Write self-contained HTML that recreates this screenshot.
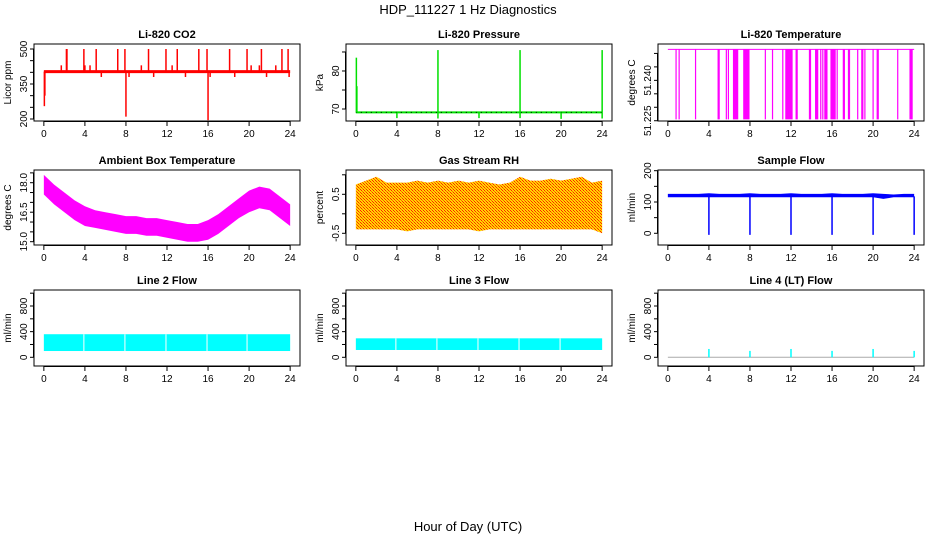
<!DOCTYPE html>
<html><head><meta charset="utf-8"><style>
html,body{margin:0;padding:0;background:#fff}
svg{display:block;font-family:"Liberation Sans",Arial,sans-serif}
</style></head><body>
<svg id="c" width="936" height="540" viewBox="0 0 936 540">
<defs>
<pattern id="rh" width="3" height="3" patternUnits="userSpaceOnUse"><rect width="3" height="3" fill="#ffd800"/><rect width="1" height="1" fill="#ff2000"/><rect x="1" y="1" width="1" height="1" fill="#ff2000"/><rect x="2" y="2" width="1" height="1" fill="#ff6000"/></pattern>
</defs>
<text x="468" y="14" text-anchor="middle" font-size="13">HDP_111227  1 Hz Diagnostics</text>
<text x="468" y="531" text-anchor="middle" font-size="13">Hour of Day (UTC)</text>
</svg>
<script>
// ---- data ----
const xTicks = [0,4,8,12,16,20,24];
// CO2
const co2Base = 403;
const co2SpikeHours = [0.05,0.1,1.7,2.2,2.25,3.9,4.0,4.5,5.1,5.6,7.2,7.9,8.0,8.3,9.5,10.2,10.7,11.9,12.5,13.0,13.8,15.1,15.9,16.0,16.2,18.1,18.6,19.8,20.2,21.0,21.2,21.7,22.6,23.2,23.8,23.9];
const co2SpikeValues = [255,300,430,500,500,500,430,430,500,380,500,500,210,380,430,500,380,500,430,500,380,500,500,195,380,500,380,500,430,430,500,380,430,500,500,380];
// Pressure
const presBase = 69.1;
const presSpikeHours = [0.05,0.1,4.0,8.0,8.0,12.0,16.0,16.0,20.0,24.0,24.0];
const presSpikeValues = [83.5,76,67.6,67.5,85.5,67.6,67.6,85.5,67.4,67.5,85.5];
// Li-820 temperature
const tempTop = 51.2515, tempLow = 51.2255;
const tempDropStart = [0.8,1.1,2.7,4.9,5.7,5.9,6.4,7.4,9.5,10.2,11.2,11.5,12.5,13.8,14.4,14.9,15.1,15.3,15.9,16.5,17.1,17.6,18.5,18.9,19.2,20.0,20.4,22.4,23.6];
const tempDropEnd   = [0.8,1.1,2.7,5.0,5.7,5.9,6.8,7.9,9.5,10.2,11.2,12.1,12.6,13.9,14.6,14.9,15.1,15.5,16.3,16.5,17.2,17.7,18.5,19.0,19.2,20.0,20.5,22.4,23.8];
// Ambient box temperature (hourly envelope)
const ambHours = [0,1,2,3,4,5,6,7,8,9,10,11,12,13,14,15,16,17,18,19,20,21,22,23,24];
const ambUpper = [18.4,17.9,17.5,17.1,16.8,16.6,16.5,16.4,16.3,16.3,16.2,16.2,16.1,16.0,15.9,15.9,16.1,16.4,16.8,17.2,17.6,17.8,17.7,17.3,16.9];
const ambLower = [17.4,16.9,16.5,16.1,15.8,15.7,15.6,15.5,15.4,15.4,15.3,15.3,15.2,15.1,15.0,15.0,15.1,15.4,15.8,16.2,16.5,16.7,16.6,16.2,15.8];
// Gas stream RH
const rhHours = [0,1,2,3,4,5,6,7,8,9,10,11,12,13,14,15,16,17,18,19,20,21,22,23,24];
const rhUpper = [0.75,0.85,0.95,0.8,0.8,0.8,0.85,0.8,0.85,0.8,0.85,0.8,0.85,0.8,0.75,0.8,0.95,0.85,0.85,0.9,0.85,0.9,0.95,0.8,0.85];
const rhLower = [-0.4,-0.4,-0.4,-0.4,-0.4,-0.45,-0.4,-0.4,-0.4,-0.4,-0.4,-0.4,-0.45,-0.4,-0.4,-0.4,-0.4,-0.4,-0.4,-0.4,-0.4,-0.4,-0.4,-0.4,-0.5];
// Sample flow
const sfHours = [0,1,2,3,4,5,6,7,8,9,10,11,12,13,14,15,16,17,18,19,20,21,22,23,24];
const sfUpper = [126,126,126,126,128,126,126,126,128,126,126,126,128,126,126,126,128,126,126,126,128,126,124,126,126];
const sfLower = [115,115,115,115,115,115,115,115,115,115,115,115,115,115,115,115,115,115,115,115,115,110,115,115,115];
const sfDipHours = [4,8,12,16,20,24];
const sfDipValues = [-5,-5,-5,-5,-5,-5];
// Line 2 / Line 3 flows
const l2Upper = 360, l2Lower = 98;
const l2Gaps = [3.9,7.9,11.9,15.9,19.8];
const l3Upper = 296, l3Lower = 114;
const l3Gaps = [3.9,7.9,11.9,15.9,19.9];
// Line 4 flow
const l4Base = 0;
const l4SpikeHours = [4,8,12,16,20,24];
const l4SpikeValues = [130,100,130,100,130,100];

// ---- layout ----
const svg = document.getElementById('c');
const NS = 'http://www.w3.org/2000/svg';
function mk(tag, attrs, parent){const e=document.createElementNS(NS,tag);for(const k in attrs)e.setAttribute(k,attrs[k]);(parent||svg).appendChild(e);return e;}
const colX = [34,346,658], rowY = [[44,121],[170,245],[290,366]], W = 266;

function panel(name, col, row, ymin, ymax, yTicks, yLabels, ylab, title){
  const x0=colX[col], y0=rowY[row][0], y1=rowY[row][1];
  const g = mk('g',{});
  
  
  const sx = h => x0 + (h + 0.96)/25.92*W;
  const sy = v => y1 - (v - ymin)/(ymax - ymin)*(y1 - y0);
  const t = mk('text',{x:x0+W/2,y:y0-6,'text-anchor':'middle','font-size':11,'font-weight':'bold'},g);
  t.textContent = title;
  
  
  const plot = mk('g',{},g);
  
  
  const box = mk('rect',{x:x0,y:y0,width:W,height:y1-y0,fill:'none',stroke:'#000','stroke-width':1},g);
  
  
  const xa = mk('g',{},g);
  
  
  mk('line',{x1:sx(0),x2:sx(24),y1:y1+0.5,y2:y1+0.5,stroke:'#000'},xa);
  xTicks.forEach(h=>{
    mk('line',{x1:sx(h),x2:sx(h),y1:y1,y2:y1+5,stroke:'#000'},xa);
    const l = mk('text',{x:sx(h),y:y1+16,'text-anchor':'middle','font-size':10},xa);
    l.textContent = h;
    
    
  });
  const ya = mk('g',{},g);
  
  
  mk('line',{x1:x0-0.5,x2:x0-0.5,y1:sy(yTicks[0]),y2:sy(yTicks[yTicks.length-1]),stroke:'#000'},ya);
  yTicks.forEach(v=>mk('line',{x1:x0-4,x2:x0,y1:sy(v),y2:sy(v),stroke:'#000'},ya));
  yLabels.forEach(([v,s])=>{
    const l = mk('text',{x:0,y:0,'text-anchor':'middle','font-size':10,transform:`translate(${x0-7},${sy(v)}) rotate(-90)`},ya);
    l.textContent = s;
    
    
  });
  const yl = mk('text',{x:0,y:0,'text-anchor':'middle','font-size':10,transform:`translate(${x0-23},${(y0+y1)/2}) rotate(-90)`},g);
  yl.textContent = ylab;
  
  
  return {sx, sy, plot};
}
function vseg(p, h, a, b, col, w){mk('line',{x1:p.sx(h),x2:p.sx(h),y1:p.sy(a),y2:p.sy(b),stroke:col,'stroke-width':w||1.5},p.plot);}
function band(p, hs, up, lo, fill){
  let d='M'+hs.map((h,i)=>p.sx(h)+','+p.sy(up[i])).join('L');
  for(let i=hs.length-1;i>=0;i--) d+='L'+p.sx(hs[i])+','+p.sy(lo[i]);
  return mk('path',{d:d+'Z',fill:fill,stroke:'none'},p.plot);
}

// CO2
let p = panel('co2',0,0,191.4,521.4,[200,250,300,350,400,450,500],[[200,'200'],[350,'350'],[500,'500']],'Licor ppm','Li-820 CO2');
let e = mk('line',{x1:p.sx(0),x2:p.sx(24),y1:p.sy(co2Base),y2:p.sy(co2Base),stroke:'#f00','stroke-width':3},p.plot);


co2SpikeHours.forEach((h,i)=>vseg(p,h,co2Base,co2SpikeValues[i],'#f00',1.5));

// Pressure
p = panel('pressure',1,0,66.84,87.1,[70,75,80,85],[[70,'70'],[80,'80']],'kPa','Li-820 Pressure');
e = mk('line',{x1:p.sx(0),x2:p.sx(24),y1:p.sy(presBase),y2:p.sy(presBase),stroke:'#00e000','stroke-width':2},p.plot);


mk('line',{x1:p.sx(0),x2:p.sx(24),y1:p.sy(presBase),y2:p.sy(presBase),stroke:'#000','stroke-width':1,'stroke-dasharray':'1 4'},p.plot);
presSpikeHours.forEach((h,i)=>vseg(p,h,presBase,presSpikeValues[i],'#00e000',1.5));

// Li-820 temperature
p = panel('li820-temp',2,0,51.2249,51.2535,[51.225,51.23,51.235,51.24,51.245,51.25],[[51.225,'51.225'],[51.24,'51.240']],'degrees C','Li-820 Temperature');
e = mk('line',{x1:p.sx(0),x2:p.sx(24),y1:p.sy(tempTop),y2:p.sy(tempTop),stroke:'#ff00ff','stroke-width':1},p.plot);


tempDropStart.forEach((s,i)=>{
  const x1=p.sx(s), x2=p.sx(tempDropEnd[i]);
  mk('rect',{x:x1-0.6,y:p.sy(tempTop),width:Math.max(1.2,x2-x1+1.2),height:p.sy(tempLow)-p.sy(tempTop),fill:'#ff00ff'},p.plot);
});

// Ambient
p = panel('ambient-temp',0,1,14.832,18.646,[15,15.5,16,16.5,17,17.5,18,18.5],[[15,'15.0'],[16.5,'16.5'],[18,'18.0']],'degrees C','Ambient Box Temperature');
e = band(p,ambHours,ambUpper,ambLower,'#ff00ff');



// RH
p = panel('gas-rh',1,1,-0.8,1.123,[-0.5,0,0.5,1],[[-0.5,'-0.5'],[0.5,'0.5']],'percent','Gas Stream RH');
e = band(p,rhHours,rhUpper,rhLower,'url(#rh)');



// Sample flow
p = panel('sample-flow',2,1,-37.4,202.2,[0,50,100,150,200],[[0,'0'],[100,'100'],[200,'200']],'ml/min','Sample Flow');
e = band(p,sfHours,sfUpper,sfLower,'#0000ff');


sfDipHours.forEach((h,i)=>vseg(p,h,118,sfDipValues[i],'#0000ff',1.5));

// Line 2
p = panel('line2-flow',0,2,-135.7,1049.6,[0,200,400,600,800,1000],[[0,'0'],[400,'400'],[800,'800']],'ml/min','Line 2 Flow');
e = mk('rect',{x:p.sx(0),y:p.sy(l2Upper),width:p.sx(24)-p.sx(0),height:p.sy(l2Lower)-p.sy(l2Upper),fill:'#00ffff'},p.plot);


l2Gaps.forEach(h=>mk('rect',{x:p.sx(h)-0.5,y:p.sy(l2Upper),width:1,height:p.sy(l2Lower)-p.sy(l2Upper),fill:'#fff'},p.plot));

// Line 3
p = panel('line3-flow',1,2,-135.7,1049.6,[0,200,400,600,800,1000],[[0,'0'],[400,'400'],[800,'800']],'ml/min','Line 3 Flow');
e = mk('rect',{x:p.sx(0),y:p.sy(l3Upper),width:p.sx(24)-p.sx(0),height:p.sy(l3Lower)-p.sy(l3Upper),fill:'#00ffff'},p.plot);


l3Gaps.forEach(h=>mk('rect',{x:p.sx(h)-0.5,y:p.sy(l3Upper),width:1,height:p.sy(l3Lower)-p.sy(l3Upper),fill:'#fff'},p.plot));

// Line 4
p = panel('line4-flow',2,2,-135.7,1049.6,[0,200,400,600,800,1000],[[0,'0'],[400,'400'],[800,'800']],'ml/min','Line 4 (LT) Flow');
e = mk('line',{x1:p.sx(0),x2:p.sx(24),y1:p.sy(l4Base),y2:p.sy(l4Base),stroke:'#aaaaaa','stroke-width':1},p.plot);


l4SpikeHours.forEach((h,i)=>vseg(p,h,l4Base,l4SpikeValues[i],'#00ffff',1.5));
</script>
</body></html>
